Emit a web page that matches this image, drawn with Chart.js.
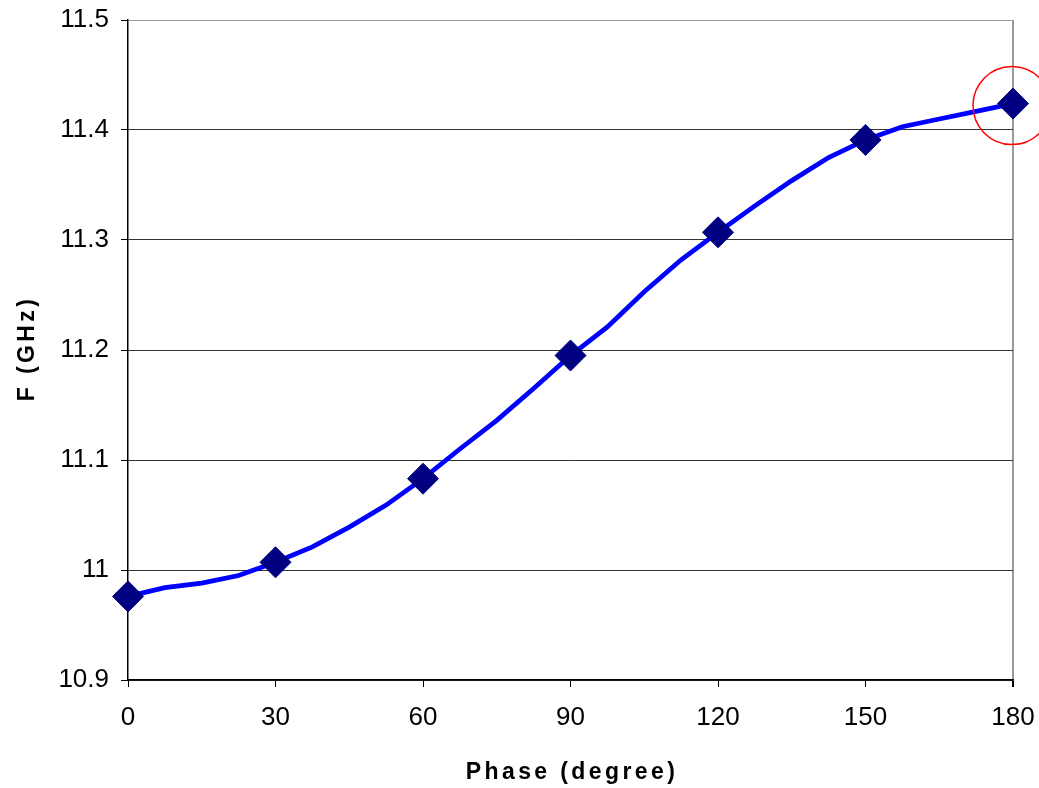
<!DOCTYPE html>
<html>
<head>
<meta charset="utf-8">
<script src="https://cdn.jsdelivr.net/npm/chart.js@4/dist/chart.umd.min.js"></script>
<style>
  html, body { margin: 0; padding: 0; background: #ffffff; }
  #wrap { width: 1039px; height: 788px; }
</style>
</head>
<body>
<div id="wrap"><canvas id="chart" width="1039" height="788"></canvas></div>
<script>
// Phase sweep (degrees) and resonant frequency (GHz) of the swept curve
const phase = [0, 7.5, 15, 22.5, 30, 37.5, 45, 52.5, 60, 67.5, 75, 82.5, 90,
               97.5, 105, 112.5, 120, 127.5, 135, 142.5, 150, 157.5, 165, 172.5, 180];
const freq  = [10.976, 10.984, 10.988, 10.995, 11.007, 11.021, 11.039, 11.059, 11.083,
               11.110, 11.136, 11.165, 11.195, 11.221, 11.253, 11.282, 11.307, 11.331,
               11.354, 11.375, 11.391, 11.403, 11.410, 11.417, 11.424];
// Phases that carry a marker
const markerPhase = [0, 30, 60, 90, 120, 150, 180];
// Highlighted point
const highlightPhase = 180;

const xTicks = [0, 30, 60, 90, 120, 150, 180];
const yTicks = [10.9, 11.0, 11.1, 11.2, 11.3, 11.4, 11.5];
const xTitle = 'Phase (degree)';
const yTitle = 'F (GHz)';

const linePoints = phase.map((p, i) => ({ x: p, y: freq[i] }));
const markerPoints = markerPhase.map(p => ({ x: p, y: freq[phase.indexOf(p)] }));

const FONT = '"Liberation Sans", Arial, sans-serif';

// Bold, letter-spaced axis titles
const axisTitles = {
  id: 'axisTitles',
  afterDraw(chart) {
    const { ctx, chartArea: a } = chart;
    ctx.save();
    ctx.fillStyle = '#000';
    ctx.font = 'bold 23px ' + FONT;
    ctx.letterSpacing = '3.4px';
    ctx.textAlign = 'center';
    ctx.textBaseline = 'alphabetic';
    ctx.fillText(xTitle, (a.left + a.right) / 2 + 1.5, 779);
    ctx.translate(33.5, (a.top + a.bottom) / 2);
    ctx.rotate(-Math.PI / 2);
    ctx.fillText(yTitle, 1.5, 0);
    ctx.restore();
  }
};

// Red ring around the highlighted point
const highlightRing = {
  id: 'highlightRing',
  afterDatasetsDraw(chart) {
    const { ctx, scales } = chart;
    const y = freq[phase.indexOf(highlightPhase)];
    const cx = scales.x.getPixelForValue(highlightPhase) - 1;
    const cy = scales.y.getPixelForValue(y) + 2;
    ctx.save();
    ctx.strokeStyle = '#ff0000';
    ctx.lineWidth = 1.5;
    ctx.beginPath();
    ctx.arc(cx, cy, 39, 0, Math.PI * 2);
    ctx.stroke();
    ctx.restore();
  }
};

// Let the layout padding alone fix the plot rectangle
const noLabelPadding = s => {
  s.paddingLeft = 0; s.paddingRight = 0; s.paddingTop = 0; s.paddingBottom = 0;
};

new Chart(document.getElementById('chart'), {
  type: 'scatter',
  data: {
    datasets: [
      {
        data: linePoints,
        showLine: true,
        borderColor: '#0000ff',
        borderWidth: 4.8,
        pointRadius: 0,
        tension: 0,
        clip: false,
        order: 2
      },
      {
        data: markerPoints,
        showLine: false,
        pointStyle: 'rectRot',
        pointRadius: 15.5,
        pointBackgroundColor: '#000080',
        pointBorderColor: '#000080',
        pointBorderWidth: 1,
        clip: false,
        order: 1
      }
    ]
  },
  options: {
    responsive: false,
    animation: false,
    layout: { padding: { left: 40, right: 26, top: 20, bottom: 0 } },
    plugins: {
      legend: { display: false },
      tooltip: { enabled: false }
    },
    scales: {
      x: {
        type: 'linear',
        min: 0,
        max: 180,
        afterBuildTicks: s => { s.ticks = xTicks.map(v => ({ value: v })); },
        afterFit: s => { s.height = 108; noLabelPadding(s); },
        ticks: {
          color: '#000',
          font: { family: FONT, size: 26 },
          padding: 15,
          maxRotation: 0,
          callback: v => String(v)
        },
        grid: {
          drawOnChartArea: true,
          tickLength: 7,
          tickColor: '#000',
          color: c => (c.tick && c.tick.value === 180) ? '#9a9a9a' : 'rgba(0,0,0,0)',
          lineWidth: c => (c.tick && c.tick.value === 180) ? 2 : 1
        },
        border: { color: '#000', width: 1.5 }
      },
      y: {
        type: 'linear',
        min: 10.9,
        max: 11.5,
        afterBuildTicks: s => { s.ticks = yTicks.map(v => ({ value: v })); },
        afterFit: s => { s.width = 88; noLabelPadding(s); },
        ticks: {
          color: '#000',
          font: { family: FONT, size: 26 },
          padding: 12,
          callback: v => String(Number(v.toFixed(1)))
        },
        grid: {
          tickLength: 7,
          tickColor: '#000',
          color: c => (c.tick && c.tick.value === 11.5) ? '#9a9a9a' : '#333333',
          lineWidth: 1
        },
        border: { color: '#000', width: 1.5 }
      }
    }
  },
  plugins: [axisTitles, highlightRing]
});
</script>
</body>
</html>
